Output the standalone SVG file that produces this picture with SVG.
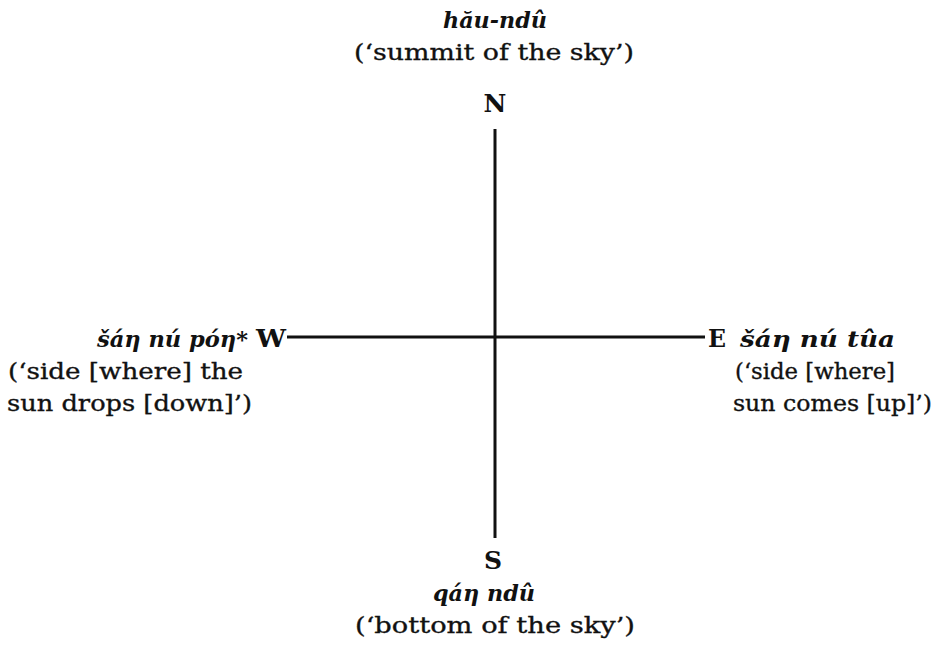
<svg xmlns="http://www.w3.org/2000/svg" width="940" height="648" viewBox="0 0 940 648">
<style>
.t{font-family:"DejaVu Serif","Liberation Serif",serif;font-size:23px;fill:#111;stroke:#111;stroke-width:0.35}
.i{font-family:"DejaVu Serif","Liberation Serif",serif;font-size:23px;font-style:italic;font-weight:bold;fill:#111}
.c{font-family:"DejaVu Serif","Liberation Serif",serif;font-size:25px;font-weight:bold;fill:#111}
.ln{stroke:#111;stroke-width:3;fill:none}
</style>
<rect width="940" height="648" fill="#fff"/>
<g id="connectors">
<line class="ln" x1="495" y1="129" x2="495" y2="538"/>
<line class="ln" x1="287" y1="337" x2="705" y2="337"/>
</g>
<g id="north">
<text class="i" x="443" y="28" textLength="104" lengthAdjust="spacingAndGlyphs">hău-ndû</text>
<text class="t" x="354" y="60" textLength="280" lengthAdjust="spacingAndGlyphs">(‘summit of the sky’)</text>
<text class="c" x="495" y="112" text-anchor="middle">N</text>
</g>
<g id="west">
<text class="i" x="97" y="347" textLength="151" lengthAdjust="spacingAndGlyphs">šáη nú póη*</text>
<text class="c" x="256" y="347" textLength="30" lengthAdjust="spacingAndGlyphs">W</text>
<text class="t" x="8" y="379" textLength="235" lengthAdjust="spacingAndGlyphs">(‘side [where] the</text>
<text class="t" x="7" y="411" textLength="245" lengthAdjust="spacingAndGlyphs">sun drops [down]’)</text>
</g>
<g id="east">
<text class="c" x="708" y="347" textLength="18" lengthAdjust="spacingAndGlyphs">E</text>
<text class="i" x="740" y="347" textLength="155" lengthAdjust="spacingAndGlyphs">šáη nú tûa</text>
<text class="t" x="735" y="379" textLength="160" lengthAdjust="spacingAndGlyphs">(‘side [where]</text>
<text class="t" x="733" y="411" textLength="199" lengthAdjust="spacingAndGlyphs">sun comes [up]’)</text>
</g>
<g id="south">
<text class="c" x="493" y="569" text-anchor="middle">S</text>
<text class="i" x="433" y="601" textLength="102" lengthAdjust="spacingAndGlyphs">qáη ndû</text>
<text class="t" x="355" y="633" textLength="280" lengthAdjust="spacingAndGlyphs">(‘bottom of the sky’)</text>
</g>
</svg>
